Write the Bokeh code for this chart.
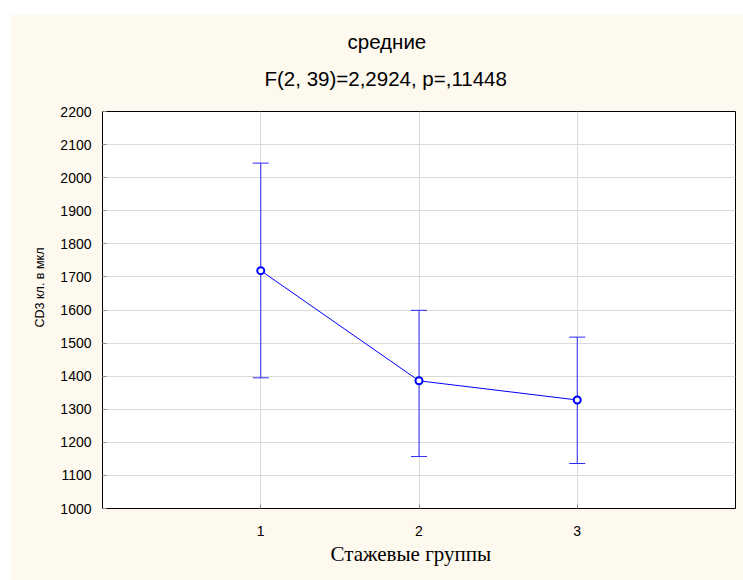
from bokeh.plotting import figure
from bokeh.models import Range1d, FixedTicker, Title, Whisker, TeeHead, ColumnDataSource
from bokeh.embed import file_html
from bokeh.resources import INLINE

# data
groups = [1, 2, 3]
group_labels = ["1", "2", "3"]
means = [1719, 1386, 1328]
upper = [2044, 1599, 1518]
lower = [1395, 1157, 1136]
y_ticks = list(range(1000, 2201, 100))
title_line1 = "средние"
title_line2 = "F(2, 39)=2,2924, p=,11448"
x_title = "Стажевые группы"
y_title = "CD3 кл. в мкл"

BG = "#FEF9EE"
BLUE = "#0000FF"

p = figure(width=733, height=566, output_backend="svg", toolbar_location=None,
           x_range=Range1d(0, 4), y_range=Range1d(1000, 2200),
           background_fill_color="white", border_fill_color=BG,
           min_border_left=92, min_border_top=97, min_border_right=8, min_border_bottom=72)
p.margin = (14, 0, 0, 10)
p.outline_line_color = "black"
p.outline_line_width = 1

p.xaxis.ticker = FixedTicker(ticks=groups)
p.xaxis.major_label_overrides = {g: l for g, l in zip(groups, group_labels)}
p.yaxis.ticker = FixedTicker(ticks=y_ticks)
for ax in (p.xaxis, p.yaxis):
    ax.axis_line_color = None
    ax.major_tick_out = 0
    ax.major_tick_in = 4
    ax.major_tick_line_color = "#888888"
    ax.minor_tick_line_color = None
    ax.major_label_text_font = "Liberation Sans"
    ax.major_label_text_font_size = "14px"
    ax.major_label_text_color = "black"
p.xaxis.major_label_standoff = 17
p.yaxis.major_label_standoff = 11

p.xgrid.grid_line_color = "#DADADA"
p.ygrid.grid_line_color = "#DADADA"
p.xgrid.ticker = FixedTicker(ticks=groups)
p.ygrid.ticker = FixedTicker(ticks=y_ticks)

src = ColumnDataSource(dict(x=groups, m=means, lo=lower, hi=upper))
w = Whisker(base="x", upper="hi", lower="lo", source=src, line_color="#2A2AF5", line_width=1,
            upper_head=TeeHead(size=16, line_color="#2A2AF5", line_width=1),
            lower_head=TeeHead(size=16, line_color="#2A2AF5", line_width=1))
p.add_layout(w)
p.line("x", "m", source=src, line_color=BLUE, line_width=1)
p.scatter("x", "m", source=src, size=7, line_color=BLUE, line_width=2, fill_color="white")

# titles (closest to the frame first)
p.add_layout(Title(text=title_line2, align="left", offset=162, vertical_align="top", standoff=39,
                   text_font="Liberation Sans", text_font_size="20.5px", text_font_style="normal",
                   text_color="black"), "above")
p.add_layout(Title(text=title_line1, align="left", offset=245, vertical_align="bottom", standoff=-10,
                   text_font="Liberation Sans", text_font_size="20.5px", text_font_style="normal",
                   text_color="black"), "above")
p.add_layout(Title(text=x_title, align="left", offset=228, vertical_align="top", standoff=6,
                   text_font="Liberation Serif", text_font_size="21px", text_font_style="normal",
                   text_color="black"), "below")
p.add_layout(Title(text=y_title, align="left", offset=181, vertical_align="bottom", standoff=22,
                   text_font="Liberation Sans", text_font_size="12.5px", text_font_style="normal",
                   text_color="black"), "left")

open("out.html", "w").write(file_html(p, INLINE))
